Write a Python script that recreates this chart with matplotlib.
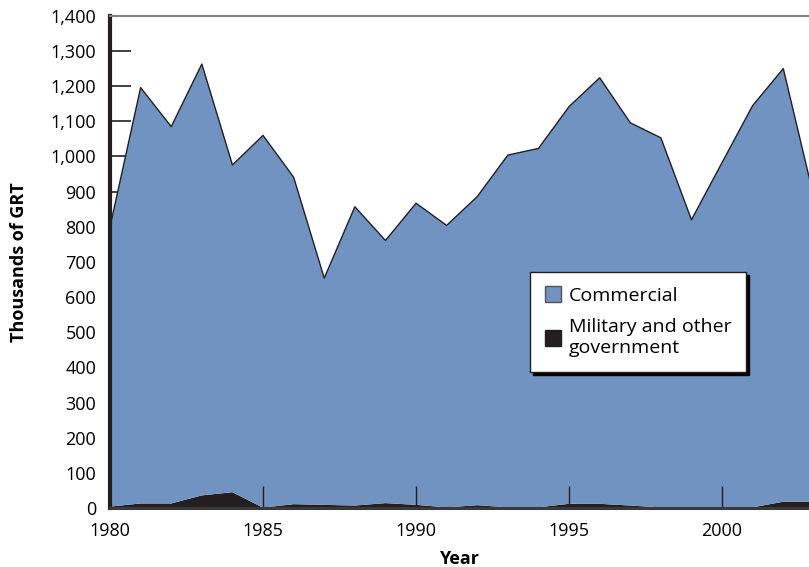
import matplotlib
matplotlib.use('Agg')
from matplotlib import pyplot as plt
from matplotlib.patches import Patch
import numpy as np

years = list(range(1980, 2004))
# total height of the stack (thousands of GRT)
total = [800, 1196, 1085, 1263, 976, 1060, 941, 654, 857, 761, 867, 804,
         886, 1004, 1023, 1142, 1224, 1096, 1053, 820, 983, 1145, 1250, 884]
military = [4, 13, 13, 36, 45, 1, 11, 9, 7, 14, 9, 2,
            8, 2, 2, 12, 12, 7, 2, 2, 2, 2, 18, 18]
commercial = [t - m for t, m in zip(total, military)]

yticks = list(range(0, 1401, 100))
xticks = [1980, 1985, 1990, 1995, 2000]

plt.rcParams['font.family'] = ['Open Sans', 'DejaVu Sans']

fig = plt.figure(figsize=(8.09, 5.67), dpi=100)
ax = fig.add_axes([0.136, 0.104, 0.864, 0.868])

blue = '#7093c2'
ax.set_axisbelow(True)
ax.stackplot(years, military, commercial, colors=['#231f20', blue],
             linewidth=0, zorder=2)
ax.plot(years, total, color='#231f20', lw=1.0, zorder=3)

ax.set_xlim(1980, 2002.84)
ax.set_ylim(0, 1400)
ax.set_yticks(yticks)
ax.set_yticklabels(['{:,}'.format(v) for v in yticks])
ax.set_xticks(xticks)
ax.tick_params(axis='y', direction='in', length=15, width=1.2,
               color='#231f20', labelsize=13, pad=10)
ax.tick_params(axis='x', length=0, labelsize=13, pad=10)
# x ticks drawn over the areas
ax.vlines(xticks[1:], 0, 0.045, transform=ax.get_xaxis_transform(),
          color='#231f20', lw=1.0, zorder=4)

ax.spines['right'].set_visible(False)
ax.spines['top'].set_color('#808080')
ax.spines['top'].set_linewidth(1.5)
ax.spines['left'].set_color('#231f20')
ax.spines['left'].set_linewidth(3)
ax.spines['bottom'].set_color('#3a3a3a')
ax.spines['bottom'].set_linewidth(2.2)
for s in ax.spines.values():
    s.set_zorder(5)

ax.set_xlabel('Year', fontsize=13, fontweight='bold', labelpad=7)
ax.set_ylabel('Thousands of GRT', fontsize=13, fontweight='bold', labelpad=16)

handles = [Patch(facecolor=blue, edgecolor='#555555', lw=1),
           Patch(facecolor='#231f20', edgecolor='#231f20', lw=1)]
leg = ax.legend(handles, ['Commercial', 'Military and other\ngovernment'],
                loc='upper left', bbox_to_anchor=(0.601, 0.48),
                fontsize=14, fancybox=False, framealpha=1,
                edgecolor='#231f20', handlelength=0.85, handleheight=0.85,
                handletextpad=0.4, borderpad=0.75, labelspacing=0.7,
                borderaxespad=0,
                shadow={'color': 'black', 'alpha': 1, 'ox': 2, 'oy': -2})
leg.get_frame().set_linewidth(1.0)
leg.set_zorder(6)

plt.savefig('out.png', dpi=100)
